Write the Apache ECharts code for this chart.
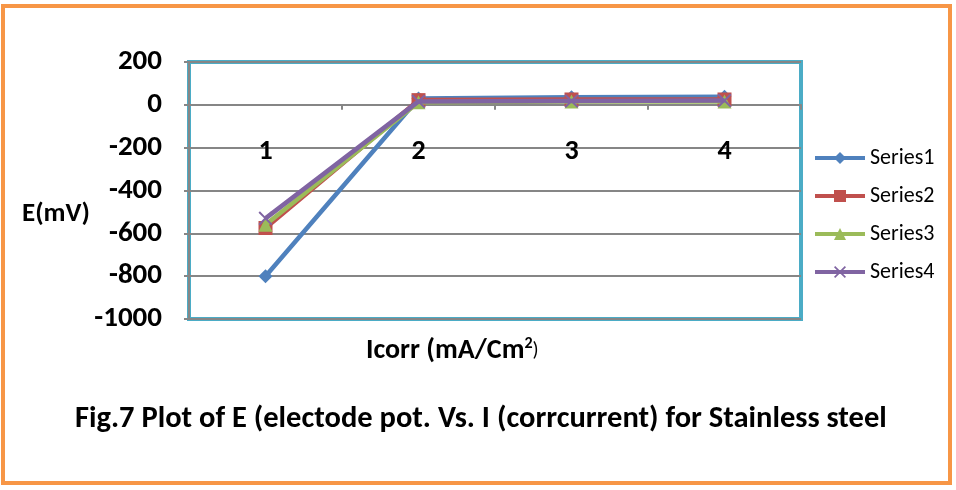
<!DOCTYPE html>
<html><head><meta charset="utf-8">
<script src="https://cdn.jsdelivr.net/npm/echarts@6/dist/echarts.min.js"></script>
<style>html,body{margin:0;padding:0;background:#fff}#c{width:956px;height:490px}</style>
</head><body><div id="c"></div>
<script>
const categories = ['1', '2', '3', '4'];
const series1 = [-800, 30, 35, 38];
const series2 = [-575, 22, 25, 25];
const series3 = [-560, 12, 15, 15];
const series4 = [-530, 16, 18, 20];
const seriesNames = ['Series1', 'Series2', 'Series3', 'Series4'];
const yTicks = { min: -1000, max: 200, interval: 200 };

const FONT = "Carlito, 'Liberation Sans Narrow', 'DejaVu Sans Condensed', sans-serif";
const colors = ['#4F81BD', '#C0504D', '#9BBB59', '#8064A2'];
const symbols = ['diamond', 'rect', 'triangle',
  'path://M0,1 L1,0 L5,4 L9,0 L10,1 L6,5 L10,9 L9,10 L5,6 L1,10 L0,9 L4,5 Z'];
const sizes = [14, 14, 14, 14];
const data = [series1, series2, series3, series4];

const chart = echarts.init(document.getElementById('c'));
chart.setOption({
  animation: false,
  grid: { left: 189, right: 155, top: 62, bottom: 171, show: true, borderColor: '#4BACC6', borderWidth: 4, backgroundColor: 'transparent' },
  legend: {
    orient: 'vertical', left: 808, top: 142, itemWidth: 50, itemHeight: 15, itemGap: 16,
    textStyle: { fontFamily: FONT, fontSize: 22, color: '#000' },
    lineStyle: { width: 4 },
    data: seriesNames
  },
  xAxis: {
    type: 'category', data: categories, boundaryGap: true,
    axisLine: { onZero: true, lineStyle: { color: '#868686', width: 2 } },
    axisTick: { show: true, length: 5, lineStyle: { color: '#868686', width: 2 } },
    axisLabel: { margin: -181, fontFamily: FONT, fontSize: 28, fontWeight: 'bold', color: '#000' },
    splitLine: { show: false }
  },
  yAxis: {
    type: 'value', min: yTicks.min, max: yTicks.max, interval: yTicks.interval,
    axisLine: { show: true, lineStyle: { color: '#868686', width: 2 } },
    axisTick: { show: true, length: 5, lineStyle: { color: '#868686', width: 2 } },
    axisLabel: { margin: 27, fontFamily: FONT, fontSize: 29, fontWeight: 'bold', color: '#000', formatter: v => String(v) },
    splitLine: { show: true, lineStyle: { color: '#868686', width: 2 } }
  },
  series: data.map((d, i) => ({
    name: seriesNames[i], type: 'line', data: d,
    symbol: symbols[i], symbolSize: sizes[i], showAllSymbol: true,
    lineStyle: { color: colors[i], width: 4.5 },
    itemStyle: { color: colors[i] },
    z: 10 + i
  })),
  graphic: [
    { type: 'rect', shape: { x: 3, y: 6, width: 947, height: 477 }, style: { fill: 'none', stroke: '#F79646', lineWidth: 4 }, silent: true },
    { type: 'text', left: 22, top: 201, style: { text: 'E(mV)', font: "bold 27px " + FONT, fill: '#000' } },
    { type: 'text', left: 366, top: 336, style: {
      rich: { a: { font: "bold 28px " + FONT, fill: '#000' }, s: { font: "bold 16px " + FONT, fill: '#000', verticalAlign: 'top', padding: [0, 0, 14, 0] }, p: { font: "20px " + FONT, fill: '#000' } },
      text: '{a|Icorr (mA/Cm}{s|2}{p|)}' } },
    { type: 'text', left: 75, top: 404, style: { text: 'Fig.7 Plot of E (electode pot. Vs. I (corrcurrent) for Stainless steel', font: "bold 30.5px " + FONT, fill: '#000' } }
  ]
});
</script></body></html>
